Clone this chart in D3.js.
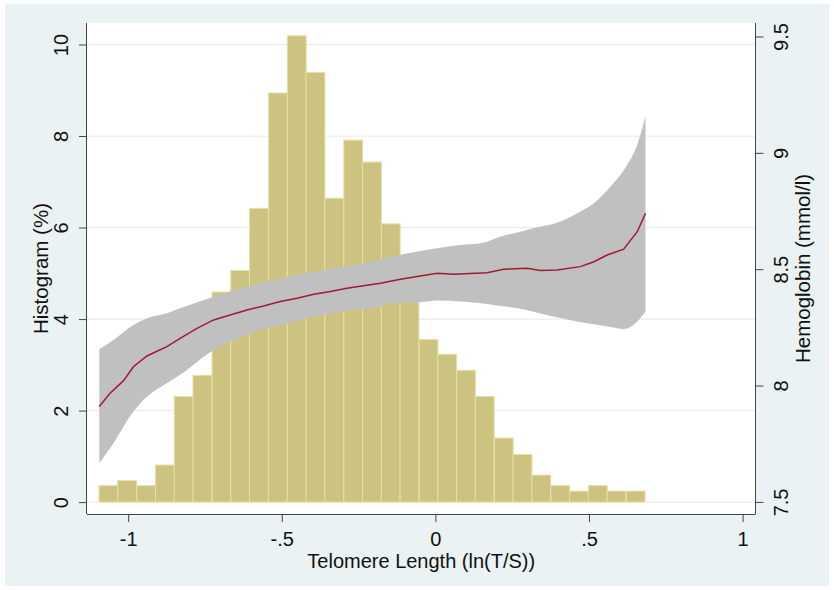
<!DOCTYPE html>
<html>
<head>
<meta charset="utf-8">
<script src="https://cdn.jsdelivr.net/npm/d3@7"></script>
<style>
  html, body { margin: 0; padding: 0; background: #ffffff; }
  svg { display: block; }
  text { font-family: "Liberation Sans", Arial, sans-serif; fill: #111; }
</style>
</head>
<body>
<svg id="chart" width="834" height="590"></svg>
<script>
// ---------------- DATA ----------------
// Histogram: bin lower edges (ln(T/S)) and percentages
const binWidth = 0.0613;
const binStarts = [-1.095, -1.034, -0.972, -0.911, -0.850, -0.789, -0.727, -0.666, -0.605, -0.543,
  -0.482, -0.421, -0.360, -0.298, -0.237, -0.176, -0.115, -0.053, 0.008, 0.069,
  0.130, 0.192, 0.253, 0.314, 0.376, 0.437, 0.498, 0.559, 0.621];
const binPercent = [0.36, 0.47, 0.36, 0.81, 2.31, 2.77, 4.59, 5.06, 6.42, 8.94,
  10.19, 9.39, 6.64, 7.91, 7.43, 6.08, 4.60, 3.55, 3.23, 2.88,
  2.31, 1.40, 1.04, 0.59, 0.36, 0.24, 0.36, 0.24, 0.24];

// Fitted hemoglobin (mmol/l)
const fitX = [-1.094, -1.059, -1.015, -0.983, -0.939, -0.874, -0.831, -0.776, -0.722, -0.668,
  -0.613, -0.559, -0.505, -0.450, -0.396, -0.342, -0.288, -0.234, -0.179, -0.114,
  0.006, 0.059, 0.168, 0.222, 0.299, 0.342, 0.396, 0.472, 0.516, 0.559,
  0.613, 0.657, 0.684];
const fitY = [7.910, 7.967, 8.021, 8.081, 8.127, 8.167, 8.203, 8.246, 8.282, 8.303,
  8.325, 8.342, 8.361, 8.375, 8.392, 8.404, 8.418, 8.429, 8.440, 8.457,
  8.483, 8.478, 8.485, 8.500, 8.504, 8.494, 8.497, 8.511, 8.532, 8.561,
  8.586, 8.661, 8.740];

// 95% confidence band
const ciX = [-1.094, -1.048, -0.983, -0.939, -0.874, -0.831, -0.722, -0.613, -0.505, -0.396,
  -0.288, -0.179, -0.136, -0.049, 0.006, 0.081, 0.114, 0.168, 0.212, 0.277,
  0.342, 0.396, 0.462, 0.516, 0.570, 0.613, 0.624, 0.657, 0.684];
const ciHi = [8.156, 8.196, 8.260, 8.289, 8.311, 8.332, 8.382, 8.425, 8.461, 8.489,
  8.514, 8.540, 8.555, 8.578, 8.590, 8.604, 8.607, 8.618, 8.640, 8.661,
  8.683, 8.700, 8.740, 8.783, 8.855, 8.925, 8.948, 9.034, 9.158];
const ciLo = [7.666, 7.752, 7.888, 7.952, 8.010, 8.046, 8.153, 8.218, 8.260, 8.296,
  8.322, 8.339, 8.355, 8.358, 8.365, 8.361, 8.358, 8.350, 8.342, 8.330,
  8.310, 8.293, 8.275, 8.263, 8.252, 8.243, 8.245, 8.275, 8.318];

// Ticks
const xTicks = [-1, -0.5, 0, 0.5, 1];
const xTickLabels = ["-1", "-.5", "0", ".5", "1"];
const leftTicks = [0, 2, 4, 6, 8, 10];
const rightTicks = [7.5, 8, 8.5, 9, 9.5];
const rightTickLabels = ["7.5", "8", "8.5", "9", "9.5"];

// ---------------- LAYOUT ----------------
const svg = d3.select("#chart");
const P = { left: 87, right: 755.5, top: 23, bottom: 514 };

const x = d3.scaleLinear().domain([-1.134, 1.042]).range([P.left, P.right]);
const yL = d3.scaleLinear().domain([-0.26, 10.47]).range([P.bottom, P.top]);
const yR = d3.scaleLinear().domain([7.448, 9.558]).range([P.bottom, P.top]);

// outer background
svg.append("rect").attr("x", 5).attr("y", 4).attr("width", 824).attr("height", 582)
  .attr("fill", "#eaf2f3");
// plot region
svg.append("rect").attr("x", P.left).attr("y", P.top)
  .attr("width", P.right - P.left).attr("height", P.bottom - P.top).attr("fill", "#ffffff");

// gridlines
svg.append("g").selectAll("line").data(leftTicks).join("line")
  .attr("x1", P.left).attr("x2", P.right)
  .attr("y1", d => yL(d)).attr("y2", d => yL(d))
  .attr("stroke", "#e9ecec").attr("stroke-width", 1.2);

// histogram bars
svg.append("g").selectAll("rect").data(binStarts.map((s, i) => ({ s, v: binPercent[i] }))).join("rect")
  .attr("x", d => x(d.s))
  .attr("width", d => x(d.s + binWidth) - x(d.s))
  .attr("y", d => yL(d.v))
  .attr("height", d => yL(0) - yL(d.v))
  .attr("fill", "#cbc37f")
  .attr("stroke", "#e6dfa6")
  .attr("stroke-width", 1);

// confidence band
const ciData = ciX.map((v, i) => ({ x: v, lo: ciLo[i], hi: ciHi[i] }));
svg.append("path").datum(ciData)
  .attr("d", d3.area().x(d => x(d.x)).y0(d => yR(d.lo)).y1(d => yR(d.hi)).curve(d3.curveMonotoneX))
  .attr("fill", "#c0c0c0");

// fitted line
const fitData = fitX.map((v, i) => ({ x: v, y: fitY[i] }));
svg.append("path").datum(fitData)
  .attr("d", d3.line().x(d => x(d.x)).y(d => yR(d.y)))
  .attr("fill", "none").attr("stroke", "#9e1b34").attr("stroke-width", 1.5);

// axes
const axisColor = "#444";
const fs = "20px";

const gx = svg.append("g").attr("transform", `translate(0,${P.bottom})`)
  .call(d3.axisBottom(x).tickValues(xTicks).tickSize(8).tickSizeOuter(0)
    .tickFormat((d, i) => xTickLabels[i]));
gx.select(".domain").attr("stroke", axisColor).attr("d", `M${P.left},0.5H${P.right}`);
gx.selectAll(".tick line").attr("stroke", axisColor);
gx.selectAll(".tick text").attr("y", 31.5).attr("dy", null).attr("font-size", fs)
  .attr("font-family", "Liberation Sans, Arial, sans-serif").attr("fill", "#111");

const gl = svg.append("g").attr("transform", `translate(${P.left},0)`)
  .call(d3.axisLeft(yL).tickValues(leftTicks).tickSize(8).tickSizeOuter(0).tickFormat(d3.format("d")));
gl.select(".domain").attr("stroke", axisColor).attr("d", `M-0.5,${P.top}V${P.bottom}`);
gl.selectAll(".tick line").attr("stroke", axisColor);
gl.selectAll(".tick text")
  .attr("x", null).attr("dy", null)
  .attr("transform", "translate(-26,0) rotate(-90)")
  .attr("text-anchor", "middle").attr("dominant-baseline", "central")
  .attr("font-size", fs).attr("font-family", "Liberation Sans, Arial, sans-serif").attr("fill", "#111");

const gr = svg.append("g").attr("transform", `translate(${P.right},0)`)
  .call(d3.axisRight(yR).tickValues(rightTicks).tickSize(8).tickSizeOuter(0)
    .tickFormat((d, i) => rightTickLabels[i]));
gr.select(".domain").attr("stroke", axisColor).attr("d", `M0,${P.top}V${P.bottom}`);
gr.selectAll(".tick line").attr("stroke", axisColor);
gr.selectAll(".tick text")
  .attr("x", null).attr("dy", null)
  .attr("transform", "translate(25,0) rotate(-90)")
  .attr("text-anchor", "middle").attr("dominant-baseline", "central")
  .attr("font-size", fs).attr("font-family", "Liberation Sans, Arial, sans-serif").attr("fill", "#111");

// axis titles
const midY = (P.top + P.bottom) / 2;
svg.append("text").attr("transform", `translate(40,${midY}) rotate(-90)`)
  .attr("text-anchor", "middle").attr("dominant-baseline", "central")
  .attr("font-size", "20.5px").text("Histogram (%)");
svg.append("text").attr("transform", `translate(802,${midY}) rotate(-90)`)
  .attr("text-anchor", "middle").attr("dominant-baseline", "central")
  .attr("font-size", "20.5px").text("Hemoglobin (mmol/l)");
svg.append("text").attr("x", (P.left + P.right) / 2).attr("y", 568)
  .attr("text-anchor", "middle")
  .attr("font-size", "20px").text("Telomere Length (ln(T/S))");
</script>
</body>
</html>
